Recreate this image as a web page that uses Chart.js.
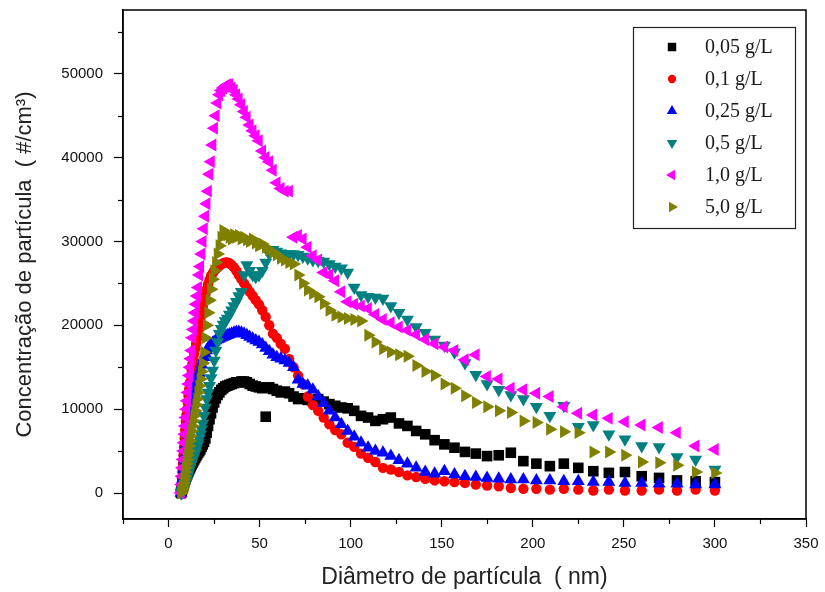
<!DOCTYPE html>
<html>
<head>
<meta charset="utf-8">
<script src="https://cdn.jsdelivr.net/npm/chart.js@4.4.1/dist/chart.umd.min.js"></script>
<style>
    html, body { margin: 0; padding: 0; background: #fff; }
    #wrap { width: 825px; height: 592px; }
</style>
</head>
<body>
<div id="wrap"><canvas id="sizeChart" width="825" height="592"></canvas></div>
<script>
// particle diameter (nm), shared by every series
const diameters = [
    6.87, 7.12, 7.38, 7.65, 7.93, 8.22, 8.52, 8.83, 9.15, 9.49,
    9.84, 10.2, 10.57, 10.96, 11.36, 11.78, 12.21, 12.65, 13.12, 13.6,
    14.1, 14.61, 15.15, 15.7, 16.28, 16.87, 17.49, 18.13, 18.79, 19.48,
    20.2, 20.94, 21.7, 22.5, 23.32, 24.18, 25.06, 25.98, 26.93, 27.92,
    28.94, 30.0, 31.1, 32.24, 33.42, 34.64, 35.91, 37.23, 38.59, 40.0,
    41.47, 42.99, 44.56, 46.2, 47.89, 49.64, 51.46, 53.35, 55.3, 57.33,
    59.43, 61.61, 63.86, 66.2, 68.63, 71.14, 73.75, 76.45, 79.25, 82.16,
    85.17, 88.29, 91.52, 94.87, 98.35, 101.95, 105.69, 109.56, 113.57, 117.73,
    122.05, 126.52, 131.15, 135.96, 140.94, 146.1, 151.45, 157.0, 162.75, 168.71,
    174.89, 181.3, 187.94, 194.82, 201.96, 209.36, 217.03, 224.98, 233.22, 241.76,
    250.61, 259.79, 269.31, 279.17, 289.4, 300.0
];

const conc005 = [
    0, 200, 400, 600, 800, 1000, 1200, 1400, 1600, 1800,
    2000, 2200, 2400, 2600, 2800, 3000, 3200, 3400, 3600, 3800,
    4000, 4200, 4400, 4600, 4800, 5000, 5200, 5500, 5800, 6100,
    6500, 7200, 8000, 8800, 9500, 10200, 10800, 11300, 11700, 12000,
    12300, 12500, 12700, 12800, 12900, 13000, 13100, 13200, 13200, 13300,
    13300, 13200, 13000, 12800, 12700, 12600, 12500, 9100, 12600, 12400,
    12200, 12000, 12100, 11900, 11500, 11200, 11300, 11100, 11000, 11200,
    10900, 10600, 10400, 10200, 10100, 9800, 9200, 9000, 8600, 8800,
    9000, 8300, 8000, 7400, 7000, 6300, 5800, 5400, 4900, 4700,
    4400, 4500, 4800, 3800, 3500, 3200, 3500, 3000, 2600, 2400,
    2500, 2000, 1800, 1500, 1400, 1300
];

const conc01 = [
    0, 800, 1700, 2600, 3500, 4500, 5500, 6500, 7500, 8500,
    9300, 10000, 10800, 11600, 12400, 13200, 14000, 14700, 15400, 16000,
    16600, 17200, 17800, 18500, 19200, 20000, 20800, 21500, 22200, 23000,
    23700, 24300, 24900, 25400, 25900, 26200, 26500, 26700, 26900, 27100,
    27300, 27400, 27500, 27500, 27400, 27200, 26900, 26500, 26000, 25500,
    25000, 24500, 24000, 23500, 23000, 22500, 21800, 21000, 20000, 19000,
    18500, 17800, 17200, 16000, 15000, 14000, 13000, 11500, 10500, 9800,
    9000, 8200, 7500, 7000, 6000, 5500, 4700, 4200, 3700, 3000,
    2800, 2500, 2100, 1900, 1700, 1500, 1400, 1300, 1200, 1000,
    900, 800, 600, 500, 500, 400, 500, 400, 300, 400,
    300, 300, 400, 300, 400, 300
];

const conc025 = [
    0, 500, 1000, 1600, 2200, 2800, 3400, 4000, 4600, 5200,
    5800, 6400, 7000, 7600, 8200, 8800, 9400, 10000, 10600, 11200,
    11800, 12300, 12800, 13300, 13800, 14300, 14800, 15300, 15800, 16200,
    16600, 17000, 17300, 17500, 17700, 17900, 18000, 18200, 18300, 18400,
    18500, 18600, 18700, 18800, 18900, 19000, 19100, 19200, 19200, 19100,
    19000, 18800, 18600, 18400, 18200, 18000, 17700, 17300, 16900, 16500,
    16200, 16000, 15800, 15500, 15000, 13500, 13000, 12800, 12300, 11500,
    10700, 9800, 9000, 8200, 7400, 6700, 6000, 5400, 5000, 4800,
    4400, 3900, 3500, 3000, 2500, 2300, 2600, 2200, 2000, 1900,
    1800, 1700, 1600, 1600, 1500, 1500, 1400, 1400, 1300, 1300,
    1200, 1200, 1100, 1100, 1000, 1000
];

const conc05 = [
    0, 0, 100, 200, 300, 500, 700, 900, 1100, 1300,
    1500, 1800, 2100, 2400, 2700, 3000, 3300, 3600, 3900, 4200,
    4500, 4800, 5200, 5600, 6000, 6500, 7000, 7600, 8300, 9200,
    10200, 11200, 12000, 12800, 13700, 14600, 15800, 17000, 18000, 19000,
    19600, 20100, 20500, 20800, 21300, 21800, 22300, 22800, 23500, 24000,
    26000, 27200, 26500, 26000, 25800, 26000, 26500, 27500, 28500, 29000,
    28800, 28600, 28500, 28500, 28500, 28400, 28200, 28000, 27800, 27700,
    27600, 27300, 27000, 26800, 26300, 24500, 23600, 23400, 23300, 23200,
    22300, 21500, 20700, 19800, 19100, 18300, 17600, 16800, 15500, 14100,
    13000, 12300, 11700, 11200, 10300, 9200, 10400, 7900, 8100, 7000,
    6400, 5600, 5500, 4300, 4000, 2800
];

const conc10 = [
    0, 1000, 2000, 3000, 4000, 5000, 6000, 7000, 8000, 9000,
    10000, 11000, 12000, 13000, 14000, 15000, 16000, 17000, 18500, 19500,
    20500, 21500, 22500, 23500, 24500, 26000, 27000, 28500, 30000, 31500,
    33000, 34500, 36000, 38000, 39500, 41500, 43500, 45000, 46500, 47500,
    48000, 48300, 48500, 48700, 48700, 48300, 48000, 47500, 47000, 46300,
    45500, 44800, 43900, 43200, 42600, 42000, 40800, 40000, 39500, 38500,
    37000, 36300, 36000, 36000, 30500, 30700, 30300, 29300, 28300, 27800,
    26300, 26000, 25300, 24000, 22800, 22500, 22300, 22000, 21300, 20700,
    20300, 19800, 19400, 18900, 18300, 17800, 17400, 17000, 15900, 16500,
    13900, 13600, 12500, 12300, 11900, 11500, 10300, 9500, 9300, 8900,
    8500, 8100, 7800, 7200, 5600, 5200
];

const conc50 = [
    0, 100, 300, 500, 800, 1200, 1600, 2000, 2500, 3000,
    3500, 4000, 4500, 5000, 5600, 6200, 6800, 7400, 8000, 8600,
    9200, 9800, 10500, 11200, 12000, 12800, 13600, 14500, 15500, 16800,
    18500, 20000, 21500, 23000, 24300, 25500, 26500, 27500, 28500, 29500,
    30500, 31300, 31000, 30800, 30500, 30300, 30800, 30500, 30700, 30300,
    30500, 30200, 30000, 30300, 29800, 29500, 29700, 29300, 29000, 28700,
    28400, 28000, 27800, 27500, 27300, 26000, 25000, 24200, 23800, 23400,
    22600, 21800, 21200, 21000, 20800, 20700, 20500, 18800, 18000, 17200,
    16800, 16500, 16300, 15200, 14500, 14000, 13000, 12500, 11600, 10800,
    10300, 9800, 9600, 8600, 8400, 7600, 7300, 7200, 4900, 4900,
    4500, 3700, 3600, 3300, 2500, 2400
];

const seriesLabels = ['0,05 g/L', '0,1 g/L', '0,25 g/L', '0,5 g/L', '1,0 g/L', '5,0 g/L'];
const seriesValues = [conc005, conc01, conc025, conc05, conc10, conc50];
const seriesColors = ['#000000', '#ff0000', '#0000ff', '#008080', '#ff00ff', '#808000'];
const seriesStyles = ['rect', 'circle', 'triangle', 'triangle', 'triangle', 'triangle'];
const seriesRotation = [0, 0, 0, 180, 270, 90];
const seriesRadius = [7.5, 5.2, 7.5, 7.5, 7.5, 7.5];

const xTickValues = [0, 50, 100, 150, 200, 250, 300, 350];
const xMinorValues = [-25, 25, 75, 125, 175, 225, 275, 325];
const yTickValues = [0, 10000, 20000, 30000, 40000, 50000];
const yMinorValues = [5000, 15000, 25000, 35000, 45000, 55000];

const sansFont = "'Liberation Sans', Arial, sans-serif";
const serifFont = "'Liberation Serif', 'Times New Roman', serif";

// frame round the plot and the short minor ticks
const framePlugin = {
    id: 'frame',
    afterDraw(chart) {
        const { ctx, chartArea: a, scales } = chart;
        ctx.save();
        ctx.strokeStyle = '#000';
        ctx.lineWidth = 1.5;
        ctx.strokeRect(a.left, a.top, a.right - a.left, a.bottom - a.top);
        ctx.lineWidth = 1.2;
        xMinorValues.forEach(v => {
            const px = Math.round(scales.x.getPixelForValue(v)) + 0.5;
            ctx.beginPath();
            ctx.moveTo(px, a.bottom);
            ctx.lineTo(px, a.bottom + 5);
            ctx.stroke();
        });
        yMinorValues.forEach(v => {
            const py = Math.round(scales.y.getPixelForValue(v)) + 0.5;
            ctx.beginPath();
            ctx.moveTo(a.left, py);
            ctx.lineTo(a.left - 5, py);
            ctx.stroke();
        });
        ctx.restore();
    }
};

// boxed legend in the top right corner of the plot
const legendBoxPlugin = {
    id: 'legendBox',
    afterDraw(chart) {
        const { ctx, chartArea: a } = chart;
        const boxW = 162, boxH = 201;
        const left = a.right - 11 - boxW;
        const top = a.top + 17;
        ctx.save();
        ctx.fillStyle = '#fff';
        ctx.fillRect(left, top, boxW, boxH);
        ctx.strokeStyle = '#222';
        ctx.lineWidth = 1.2;
        ctx.strokeRect(left + 0.5, top + 0.5, boxW, boxH);
        ctx.font = '20px ' + serifFont;
        ctx.textBaseline = 'middle';
        seriesLabels.forEach((label, i) => {
            const cy = top + 20 + i * 32;
            ctx.fillStyle = seriesColors[i];
            Chart.helpers.drawPoint(ctx, {
                pointStyle: seriesStyles[i],
                rotation: seriesRotation[i],
                radius: seriesRadius[i] * 0.8,
                borderWidth: 0
            }, left + 39, cy);
            ctx.fillStyle = '#1a1a1a';
            ctx.fillText(label, left + 72, cy + 1);
        });
        ctx.restore();
    }
};

const datasets = seriesValues.map((values, i) => ({
    label: seriesLabels[i],
    data: values.map((v, k) => ({ x: diameters[k], y: v })),
    showLine: false,
    pointStyle: seriesStyles[i],
    rotation: seriesRotation[i],
    pointRadius: seriesRadius[i],
    pointHoverRadius: seriesRadius[i],
    pointBackgroundColor: seriesColors[i],
    pointBorderWidth: 0,
    borderColor: seriesColors[i],
    backgroundColor: seriesColors[i],
    order: seriesValues.length - i
}));

const ctx = document.getElementById('sizeChart').getContext('2d');
const sizeChart = new Chart(ctx, {
    type: 'scatter',
    data: { datasets: datasets },
    options: {
        responsive: false,
        animation: false,
        layout: { padding: { top: 10, right: 19, left: 0, bottom: 0 } },
        plugins: {
            legend: { display: false },
            tooltip: { enabled: false }
        },
        scales: {
            x: {
                type: 'linear',
                min: -25,
                max: 350,
                afterFit: scale => {
                    scale.height = 73;
                    scale.paddingLeft = 0;
                    scale.paddingRight = 0;
                },
                afterBuildTicks: scale => { scale.ticks = xTickValues.map(v => ({ value: v })); },
                grid: { drawOnChartArea: false, tickLength: 8, tickColor: '#000', tickWidth: 1.2 },
                border: { display: true, color: '#000', width: 1.5 },
                ticks: {
                    color: '#111',
                    padding: 8,
                    font: { family: sansFont, size: 15 },
                    callback: value => String(value)
                },
                title: {
                    display: true,
                    text: 'Diâmetro de partícula  ( nm)',
                    color: '#222',
                    padding: { top: 0, bottom: 1 },
                    font: { family: sansFont, size: 23 }
                }
            },
            y: {
                type: 'linear',
                min: -3100,
                max: 57600,
                afterFit: scale => {
                    scale.width = 123;
                    scale.paddingTop = 0;
                    scale.paddingBottom = 0;
                },
                afterBuildTicks: scale => { scale.ticks = yTickValues.map(v => ({ value: v })); },
                grid: { drawOnChartArea: false, tickLength: 9, tickColor: '#000', tickWidth: 1.2 },
                border: { display: true, color: '#000', width: 1.5 },
                ticks: {
                    color: '#111',
                    padding: 11,
                    font: { family: sansFont, size: 15 },
                    callback: value => String(value)
                },
                title: {
                    display: true,
                    text: 'Concentração de partícula  ( #/cm³)',
                    color: '#222',
                    padding: { top: 12, bottom: 0 },
                    font: { family: sansFont, size: 22 }
                }
            }
        }
    },
    plugins: [framePlugin, legendBoxPlugin]
});
</script>
</body>
</html>
